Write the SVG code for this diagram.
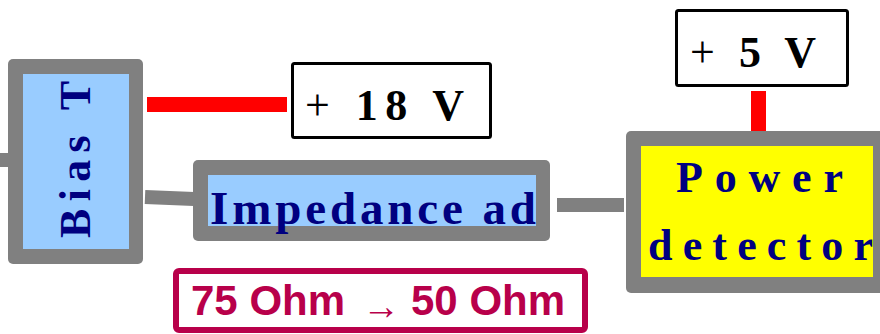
<svg xmlns="http://www.w3.org/2000/svg" width="880" height="334" viewBox="0 0 880 334">
  <style>
    .frame { fill: #808080; }
    .wire { stroke: #808080; stroke-width: 14; fill: none; }
    .bias { stroke: #FF0000; stroke-width: 15; fill: none; }
    .supply { fill: #FFFFFF; stroke: #000000; stroke-width: 3; }
    .label { font-family: "Liberation Serif", "Times New Roman", serif; font-weight: bold; fill: #000080; }
    .volt { font-family: "Liberation Serif", "Times New Roman", serif; font-weight: bold; fill: #000000; font-size: 44px; }
    .plus { font-weight: normal; }
    .note { font-family: "Liberation Sans", Arial, sans-serif; font-weight: bold; fill: #B8004A; font-size: 42px; }
  </style>

  <g id="connectors">
    <line class="wire" x1="0" y1="160" x2="9" y2="160"/>
    <line class="wire" x1="145" y1="197" x2="194" y2="199"/>
    <line class="wire" x1="557" y1="205" x2="624" y2="205"/>
    <line class="bias" x1="147" y1="104.5" x2="287" y2="104.5"/>
    <line class="bias" x1="758.5" y1="91" x2="758.5" y2="132"/>
  </g>

  <g id="bias-t">
    <rect class="frame" x="8" y="59" width="135" height="205" rx="5"/>
    <rect x="23" y="74" width="106" height="175" fill="#99CCFF"/>
    <text class="label" font-size="44" transform="translate(90 238) rotate(-90)" x="0" y="0" textLength="157" lengthAdjust="spacing">Bias T</text>
  </g>

  <g id="supply-18v">
    <rect class="supply" x="292.5" y="63.5" width="198" height="74" rx="2"/>
    <text class="volt" x="305" y="120" textLength="159" lengthAdjust="spacing"><tspan class="plus">+</tspan> 18 V</text>
  </g>

  <g id="impedance-adapter">
    <rect class="frame" x="193" y="160" width="357" height="81" rx="5"/>
    <rect x="208" y="175" width="328" height="51" fill="#99CCFF"/>
    <text class="label" font-size="47" x="210" y="224" textLength="326" lengthAdjust="spacing">Impedance ad</text>
  </g>

  <g id="supply-5v">
    <rect class="supply" x="676.5" y="10.5" width="171" height="75" rx="2"/>
    <text class="volt" x="690" y="67" textLength="126" lengthAdjust="spacing"><tspan class="plus">+</tspan> 5 V</text>
  </g>

  <g id="power-detector">
    <rect class="frame" x="626" y="131" width="270" height="162" rx="5"/>
    <rect x="641" y="146" width="232" height="131" fill="#FFFF00"/>
    <text class="label" font-size="44" x="676" y="192" textLength="167" lengthAdjust="spacing">Power</text>
    <text class="label" font-size="44" x="648" y="260" textLength="225" lengthAdjust="spacing">detector</text>
  </g>

  <g id="impedance-note">
    <rect x="176" y="271" width="409" height="59" rx="3" fill="#FFFFFF" stroke="#B8004A" stroke-width="6"/>
    <text class="note" y="315"><tspan x="191">75 Ohm</tspan><tspan x="411">50 Ohm</tspan></text>
    <text x="362" y="319" font-family="'Liberation Serif', serif" font-size="38" fill="#B8004A">→</text>
  </g>
</svg>
